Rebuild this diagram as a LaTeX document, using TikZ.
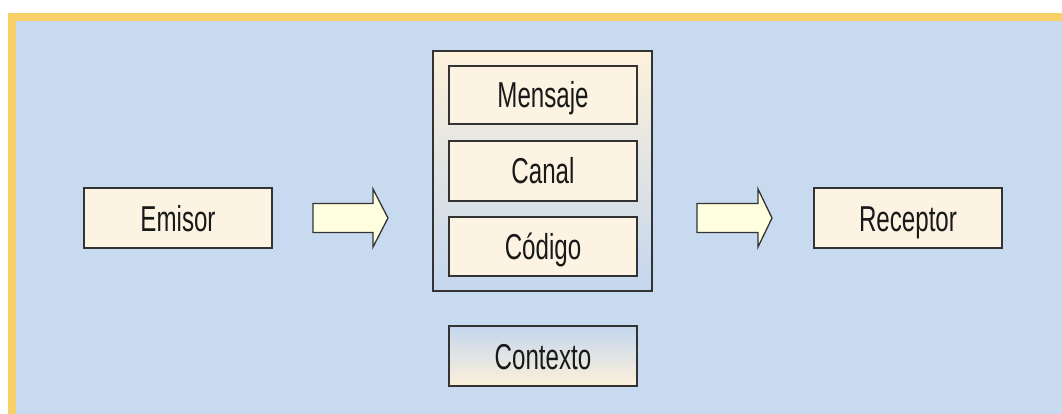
\documentclass[tikz,border=0pt]{standalone}
\usepackage{fontspec}
\setmainfont{Liberation Sans}[FakeStretch=0.67]
\definecolor{frameyellow}{HTML}{F7D068}
\definecolor{bgblue}{HTML}{C8DAEF}
\definecolor{boxcream}{HTML}{FDF3E2}
\definecolor{arrowfill}{HTML}{FFFFE0}
\definecolor{gradtop}{HTML}{FDF1DA}
\definecolor{gradbot}{HTML}{C4D6EE}
\definecolor{edge}{HTML}{333333}
\begin{document}
\begin{tikzpicture}[x=1pt,y=-1pt,
  txt/.style={font=\fontsize{36}{40}\selectfont, text height=30pt, text depth=4pt, text=black!90},
  box/.style={txt, draw=edge, line width=1.5pt, fill=boxcream, minimum width=188pt, minimum height=60pt, inner sep=0pt},
  container/.style={draw=edge, line width=1.5pt, top color=gradtop, bottom color=gradbot, minimum width=219pt, minimum height=240pt, inner sep=0pt},
  ctxbox/.style={box, top color=gradbot, bottom color=gradtop},
  bigarrow/.style={draw=edge, line width=1.3pt, fill=arrowfill, line join=miter}
]
\useasboundingbox (0,0) rectangle (1062,414);
% background frame
\fill[white] (0,0) rectangle (1062,414);
\fill[frameyellow] (8,13) rectangle (1062,414);
\fill[bgblue] (16,21) rectangle (1062,414);

\node[box] (emisor) at (178,218) {Emisor};
\node[box] (receptor) at (908,218) {Receptor};
\node[container] (cont) at (542.5,171) {};
\node[box, minimum height=58pt] (mensaje) at (543,95) {Mensaje};
\node[box] (canal) at (543,171) {Canal};
\node[box, minimum height=59pt] (codigo) at (543,246.5) {Código};
\node[ctxbox] (contexto) at (543,356) {Contexto};

% arrows
\coordinate (a1) at (313,218);
\coordinate (a2) at (697,218);
\draw[bigarrow] (a1) ++(0,-14.5) -- ++(60,0) -- ++(0,-14.5) -- ++(15,29) -- ++(-15,29) -- ++(0,-14.5) -- ++(-60,0) -- cycle;
\draw[bigarrow] (a2) ++(0,-14.5) -- ++(61,0) -- ++(0,-14.5) -- ++(14,29) -- ++(-14,29) -- ++(0,-14.5) -- ++(-61,0) -- cycle;
\end{tikzpicture}
\end{document}
